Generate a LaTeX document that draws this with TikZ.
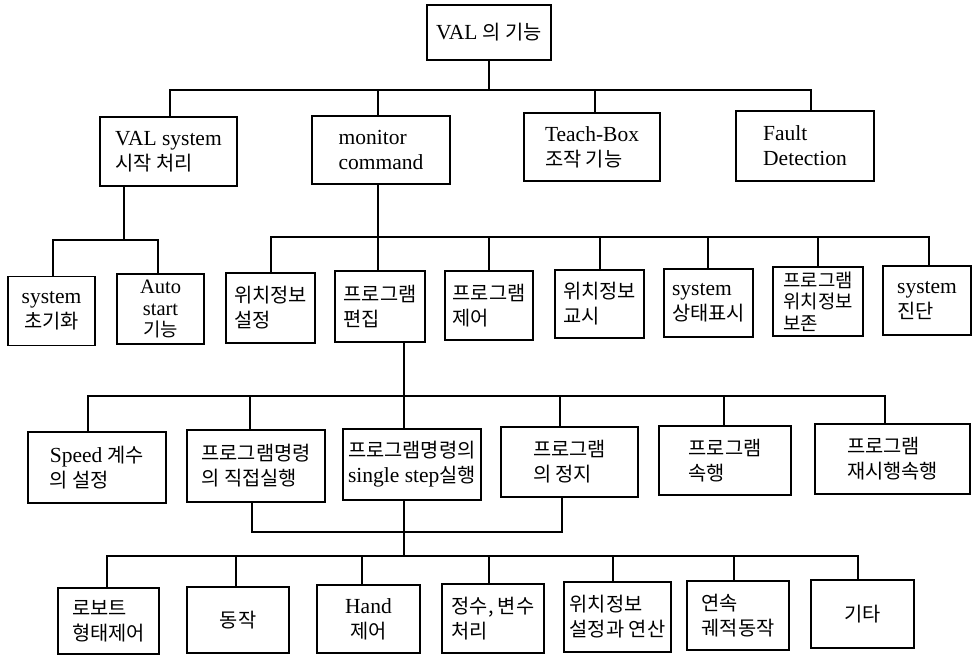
\documentclass[tikz,border=0pt]{standalone}
\usepackage{fontspec}
\setmainfont{Liberation Serif}
\newfontfamily\kr[Scale=0.92]{Noto Sans CJK KR}
\usepackage{tikz}
\usetikzlibrary{calc}
\tikzset{
  bx/.style={
    draw=black, line width=1.2pt, align=left,
    inner sep=2pt, font=\fontsize{21.5}{25}\selectfont
  },
  bxc/.style={bx, align=center},
  tight/.style={font=\fontsize{20.5}{21.5}\selectfont},
  ln/.style={draw=black, line width=1.2pt, line join=miter}
}

\begin{document}
\begin{tikzpicture}[x=1pt, y=-1pt]
  \useasboundingbox (0,0) rectangle (972,655);
  % root
  \node[bxc, minimum width=124pt, minimum height=55pt] (root) at (489,32.5) {VAL {\kr 의 기능}};
  % first level
  \node[bx, minimum width=137pt, minimum height=69pt] (vs) at (168.5,151.5) {VAL system\\{\kr 시작 처리}};
  \node[bx, minimum width=138pt, minimum height=68pt] (mc) at (381,150) {monitor\\command};
  \node[bx, minimum width=136pt, minimum height=68pt] (tb) at (592,147) {Teach-Box\\{\kr 조작 기능}};
  \node[bx, minimum width=138pt, minimum height=70pt] (fd) at (805,146) {Fault\\Detection};
  % second level
  \node[bxc, minimum width=87pt, minimum height=69pt] (si) at (51.5,311) {system\\{\kr 초기화}};
  \node[bxc, tight, minimum width=87pt, minimum height=70pt] (as) at (160.5,309) {Auto\\start\\{\kr 기능}};
  \node[bx, minimum width=89pt, minimum height=70pt] (wi) at (270.5,308) {{\kr 위치정보}\\{\kr 설정}};
  \node[bx, minimum width=90pt, minimum height=71pt] (pe) at (380,306.5) {{\kr 프로그램}\\{\kr 편집}};
  \node[bx, minimum width=88pt, minimum height=69pt] (pc) at (489,305.5) {{\kr 프로그램}\\{\kr 제어}};
  \node[bx, minimum width=89pt, minimum height=68pt] (wg) at (599.5,304) {{\kr 위치정보}\\{\kr 교시}};
  \node[bx, minimum width=89pt, minimum height=68pt] (ss) at (708.5,303) {system\\{\kr 상태표시}};
  \node[bx, tight, minimum width=90pt, minimum height=69pt] (pw) at (818,301.5) {{\kr 프로그램}\\{\kr 위치정보}\\{\kr 보존}};
  \node[bx, minimum width=88pt, minimum height=69pt] (sd) at (927,300.5) {system\\{\kr 진단}};
  % third level
  \node[bx, minimum width=138pt, minimum height=71pt] (sp) at (97,467.5) {Speed {\kr 계수}\\{\kr 의 설정}};
  \node[bx, minimum width=138pt, minimum height=72pt] (dr) at (256,466) {{\kr 프로그램명령}\\{\kr 의 직접실행}};
  \node[bx, minimum width=138pt, minimum height=71pt] (st) at (412,464.5) {{\kr 프로그램명령의}\\single step{\kr 실행}};
  \node[bx, minimum width=137pt, minimum height=70pt] (jj) at (569.5,462) {{\kr 프로그램}\\{\kr 의 정지}};
  \node[bx, minimum width=132pt, minimum height=69pt] (sh) at (725,460.5) {{\kr 프로그램}\\{\kr 속행}};
  \node[bx, minimum width=155pt, minimum height=70pt] (rs) at (892.5,459) {{\kr 프로그램}\\{\kr 재시행속행}};
  % fourth level
  \node[bx, minimum width=101pt, minimum height=66pt] (rb) at (108.5,621) {{\kr 로보트}\\{\kr 형태제어}};
  \node[bxc, minimum width=102pt, minimum height=66pt] (dz) at (238,620) {{\kr 동작}};
  \node[bxc, minimum width=103pt, minimum height=68pt] (hd) at (368.5,619) {Hand\\{\kr 제어}};
  \node[bx, minimum width=102pt, minimum height=69pt] (js) at (493,618.5) {{\kr 정수, 변수}\\{\kr 처리}};
  \node[bx, minimum width=107pt, minimum height=70pt] (wj) at (617.5,617) {{\kr 위치정보}\\{\kr 설정과 연산}};
  \node[bx, minimum width=102pt, minimum height=69pt] (ys) at (738,615.5) {{\kr 연속}\\{\kr 궤적동작}};
  \node[bxc, minimum width=103pt, minimum height=68pt] (gt) at (862.5,614) {{\kr 기타}};
  % connectors
  \coordinate (b1) at (489,90);
  \draw[ln] (root.south) -- (b1);
  \foreach \n/\s in {vs/1.5, mc/-3, tb/3, fd/6}
    \draw[ln] ([xshift=\s pt]\n.north) |- (b1);
  \coordinate (b2) at (124,240);
  \draw[ln] ([xshift=-44.5pt]vs.south) -- (b2);
  \foreach \n/\s in {si/1.5, as/-2.5}
    \draw[ln] ([xshift=\s pt]\n.north) |- (b2);
  \coordinate (b3) at (378,237);
  \draw[ln] ([xshift=-3pt]mc.south) -- (b3);
  \foreach \n/\s in {wi/0.5, pe/-2, pc/0, wg/0.5, ss/-0.5, pw/0, sd/2}
    \draw[ln] ([xshift=\s pt]\n.north) |- (b3);
  \coordinate (b4) at (404,396);
  \draw[ln] ([xshift=24pt]pe.south) -- (b4);
  \foreach \n/\s in {sp/-9, dr/-6, st/-8, jj/-9.5, sh/-1, rs/-7.5}
    \draw[ln] ([xshift=\s pt]\n.north) |- (b4);
  \coordinate (b5) at (404,532);
  \draw[ln] ([xshift=-4pt]dr.south) |- (b5) -| ([xshift=-7.5pt]jj.south);
  \coordinate (b6) at (404,556);
  \draw[ln] ([xshift=-8pt]st.south) -- (b6);
  \foreach \n/\s in {rb/-1.5, dz/-2, hd/-6.5, js/-4, wj/-4.5, ys/-4, gt/-4.5}
    \draw[ln] ([xshift=\s pt]\n.north) |- (b6);
\end{tikzpicture}
\end{document}
